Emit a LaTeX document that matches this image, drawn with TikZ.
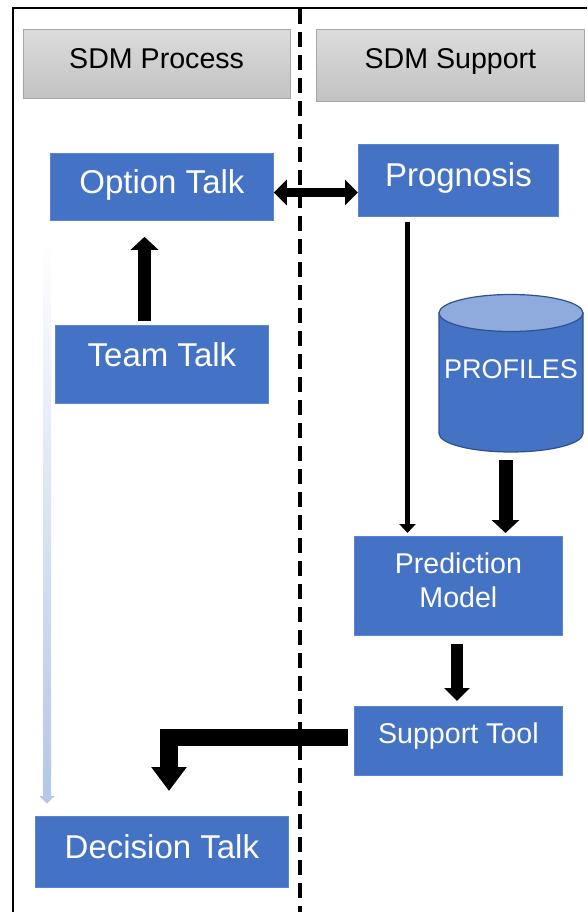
\documentclass[tikz,border=0pt]{standalone}
\usepackage{fontspec}
\setmainfont{Liberation Sans}
\usetikzlibrary{arrows.meta}
\definecolor{boxblue}{HTML}{4472C4}
\definecolor{boxedge}{HTML}{5B85D0}
\definecolor{cyltop}{HTML}{8FAADC}
\definecolor{cyledge}{HTML}{2F528F}
\definecolor{graytop}{HTML}{DCDCDC}
\definecolor{graybot}{HTML}{C2C2C2}
\definecolor{grayedge}{HTML}{A8A8A8}
\definecolor{timeline}{HTML}{B4C7E7}
\tikzset{
  box/.style={draw=boxedge, line width=0.8pt, fill=boxblue, inner sep=0pt, anchor=north west},
  header/.style={draw=grayedge, line width=0.8pt, top color=graytop, bottom color=graybot, inner sep=0pt, anchor=north west},
  labbig/.style={inner sep=0pt, text=white, font=\fontsize{33}{40}\selectfont, text height=23.6pt, text depth=0pt},
  labmid/.style={inner sep=0pt, text=white, font=\fontsize{28.6}{34}\selectfont, text height=20.5pt, text depth=0pt},
  labhead/.style={inner sep=0pt, text=black, font=\fontsize{28.6}{34}\selectfont, text height=20.5pt, text depth=0pt},
  fatarrow/.style={draw=black, line width=#1},
}
\begin{document}
\begin{tikzpicture}[x=1pt,y=-1pt]
\useasboundingbox (0,0) rectangle (587,912);
% frame and divider
\draw[line width=2pt] (12.5,912) -- (12.5,8) -- (587,8);
\draw[line width=3.5pt, dash pattern=on 15pt off 8pt] (300,9) -- (300,912);
% headers
\node[header, minimum width=267.5pt, minimum height=69pt, label={[labhead, yshift=6pt]center:SDM Process}] (proc) at (22.5,29) {};
\node[header, minimum width=268pt, minimum height=72pt, label={[labhead, yshift=7.5pt]center:SDM Support}] (supp) at (316,29) {};
% boxes
\node[box, minimum width=223pt, minimum height=67pt, label={[labbig, yshift=4.8pt]center:Option Talk}] (opt) at (50,153) {};
\node[box, minimum width=200pt, minimum height=72pt, label={[labbig, yshift=6pt]center:Prognosis}] (prog) at (358,144) {};
\node[box, minimum width=213pt, minimum height=78pt, label={[labbig, yshift=9.5pt]center:Team Talk}] (team) at (55,325) {};
\node[box, minimum width=208pt, minimum height=99pt, label={[inner sep=0pt, text=white, font=\fontsize{28.6}{34}\selectfont, align=center, yshift=5.75pt]center:Prediction\\Model}] (pred) at (354,536) {};
\node[box, minimum width=208pt, minimum height=69pt, label={[labmid, yshift=8pt]center:Support Tool}] (sup) at (354,706) {};
\node[box, minimum width=253pt, minimum height=71pt, label={[labbig, yshift=5.5pt]center:Decision Talk}] (dec) at (35,816) {};
% cylinder
\node[inner sep=0pt, minimum width=144pt, minimum height=157pt, anchor=north west] (cyl) at (439,295) {};
\filldraw[fill=boxblue, draw=cyledge, line width=1.2pt] (439,313) -- (439,433.5) arc (180:0:72 and 18.5) -- (583,313) -- cycle;
\filldraw[fill=cyltop, draw=cyledge, line width=1.2pt] (511,313) ellipse (72 and 18.5);
\node[inner sep=0pt, text=white, font=\fontsize{27}{32}\selectfont, text height=19.3pt, text depth=0pt] (proftext) at (511,368.5) {PROFILES};
% timeline arrow
\shade[top color=white, bottom color=timeline] (43,238) rectangle (51,796.5);
\fill[timeline] (39.5,796) -- (54.5,796) -- (47,803.5) -- cycle;
% connectors
\coordinate (ya) at (0,192.5);
\draw[line width=9pt, {Triangle[width=25pt,length=13pt]}-{Triangle[width=25pt,length=13pt]}] (opt.east |- ya) -- (prog.west |- ya);
\coordinate (xb) at (144.5,0);
\draw[line width=13pt, -{Triangle[width=27pt,length=13pt]}, shorten <=4pt, shorten >=16pt] (team.north -| xb) -- (opt.south -| xb);
\coordinate (xc) at (407.5,0);
\draw[line width=5.5pt, -{Triangle[width=16pt,length=9pt]}, shorten <=5pt, shorten >=3pt] (prog.south -| xc) -- (pred.north -| xc);
\coordinate (xd) at (505.5,0);
\draw[line width=14pt, -{Triangle[width=27pt,length=13pt]}, shorten <=8pt, shorten >=3pt] (cyl.south -| xd) -- (pred.north -| xd);
\coordinate (xe) at (457,0);
\draw[line width=12pt, -{Triangle[width=25pt,length=13pt]}, shorten <=8pt, shorten >=5pt] (pred.south -| xe) -- (sup.north -| xe);
\coordinate (ye) at (0,737.5);
\coordinate (xf) at (169,0);
\draw[line width=17.5pt, line join=miter, -{Triangle[width=34pt,length=24pt]}, shorten <=6pt, shorten >=25pt] (sup.west |- ye) -| (dec.north -| xf);
\end{tikzpicture}
\end{document}
